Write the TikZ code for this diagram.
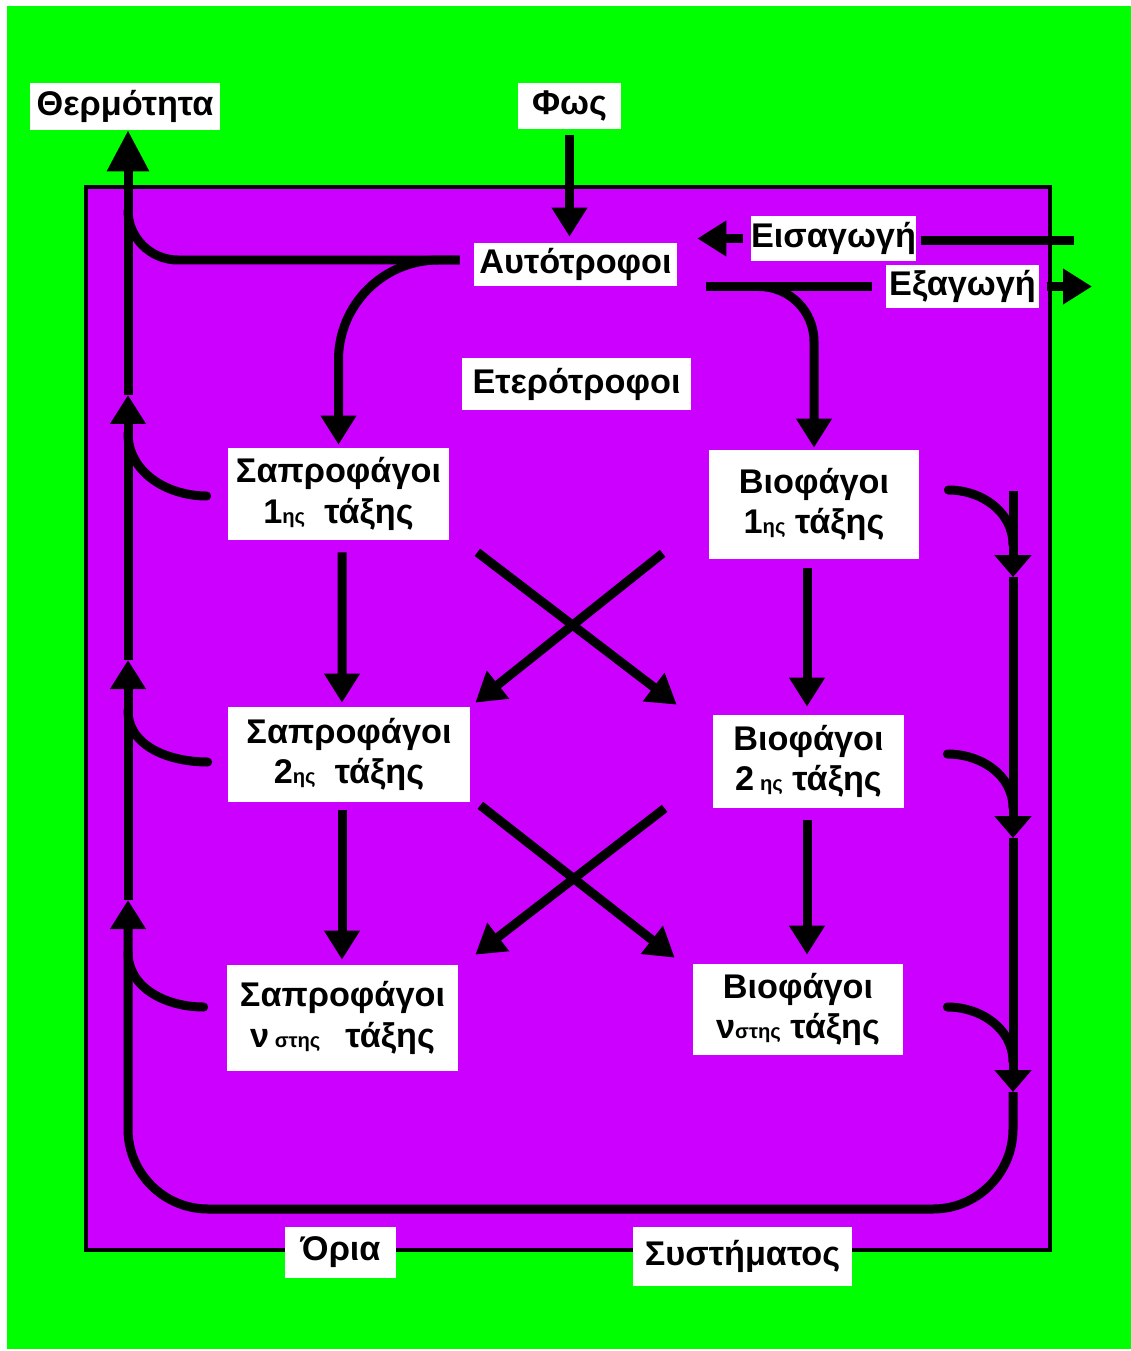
\documentclass[tikz,border=0pt]{standalone}
\usepackage{fontspec}
\setmainfont{Liberation Sans}
\usetikzlibrary{arrows.meta,calc}
\definecolor{grn}{RGB}{0,255,0}
\definecolor{purp}{RGB}{204,0,255}
\newcommand{\ordsub}[1]{{\fontsize{11.5}{12}\selectfont #1}}

\begin{document}
\begin{tikzpicture}[x=0.02cm,y=-0.02cm,
    box/.style = {fill=white, inner sep=0pt, align=center, font=\bfseries\fontsize{19.5}{23}\selectfont},
    flow/.style = {line width=0.18cm},
    dn/.style = {-{Triangle[width=0.72cm,length=0.44cm]}},
    >={Triangle[width=0.68cm,length=0.58cm]}]
  \useasboundingbox (0,0) rectangle (1131,1351);
  \fill[white] (0,0) rectangle (1131,1351);
  \fill[grn] (7,6) rectangle (1131,1349);
  % system boundary
  \filldraw[fill=purp, line width=0.08cm] (86,187) rectangle (1050,1250);

  \node[box, minimum width=3.8cm, minimum height=0.94cm] (therm) at (125,106.5) {Θερμότητα};
  \node[box, minimum width=2.06cm, minimum height=0.92cm] (fos) at (569.5,106) {Φως};
  \node[box, minimum width=4.06cm, minimum height=0.86cm] (auto) at (575.5,264.5) {Αυτότροφοι};
  \node[box, minimum width=3.3cm, minimum height=0.9cm] (eisag) at (833.5,238.5) {Εισαγωγή};
  \node[box, minimum width=3.06cm, minimum height=0.86cm] (exag) at (962.5,286.5) {Εξαγωγή};
  \node[box, minimum width=4.58cm, minimum height=1.04cm] (etero) at (576.5,384) {Ετερότροφοι};
  \node[box, minimum width=4.42cm, minimum height=1.84cm] (sap1) at (338.5,494) {Σαπροφάγοι\\1\ordsub{ης}\ \ τάξης};
  \node[box, minimum width=4.2cm, minimum height=2.18cm] (bio1) at (814,504.5) {Βιοφάγοι\\1\ordsub{ης} τάξης};
  \node[box, minimum width=4.84cm, minimum height=1.9cm] (sap2) at (349,754.5) {Σαπροφάγοι\\2\ordsub{ης}\ \ τάξης};
  \node[box, minimum width=3.82cm, minimum height=1.86cm] (bio2) at (808.5,761.5) {Βιοφάγοι\\2\,\ordsub{ης} τάξης};
  \node[box, minimum width=4.62cm, minimum height=2.12cm] (sapn) at (342.5,1018) {Σαπροφάγοι\\ν\ordsub{ στης}\hspace{0.5cm}τάξης};
  \node[box, minimum width=4.2cm, minimum height=1.82cm] (bion) at (798,1009.5) {Βιοφάγοι\\ν\ordsub{στης} τάξης};
  \node[box, minimum width=2.22cm, minimum height=1.02cm] (oria) at (340.5,1252.5) {Όρια};
  \node[box, minimum width=4.38cm, minimum height=1.18cm] (syst) at (742.5,1256.5) {Συστήματος};

  % points on the heat line and on the return line
  \coordinate (h0) at (128,210);
  \coordinate (h1) at (128,433);
  \coordinate (h2) at (128,710);
  \coordinate (h3) at (128,952);
  \coordinate (la1) at (128,395);
  \coordinate (la2) at (128,660);
  \coordinate (la3) at (128,900);
  \coordinate (rtop) at (1013,491);
  \coordinate (r1) at (1013,545);
  \coordinate (r2) at (1013,808);
  \coordinate (r3) at (1013,1062);
  \coordinate (ra1) at (1013,577);
  \coordinate (ra2) at (1013,838);
  \coordinate (ra3) at (1013,1092);
  \coordinate (bot) at (570,1209);
  \coordinate (imp) at (1074,241);
  \coordinate (exp) at (1092,286.5);

  % light, import, export
  \draw[flow,->,shorten <=0.12cm,shorten >=0.12cm] (fos.south) -- (fos.south |- auto.north);
  \draw[flow,shorten >=0.1cm] (imp) -- (imp -| eisag.east);
  \draw[flow,->,shorten <=0.16cm,shorten >=0.4cm] (eisag.west) -- (auto.east |- eisag.west);
  \draw[flow,shorten <=0.58cm,shorten >=0.28cm] (auto.east |- exag.west) -- (exag.west);
  \draw[flow,->,shorten <=0.16cm] (exag.east) -- (exp);

  % from the autotrophs
  \draw[flow,rounded corners=1cm,shorten <=0.28cm] ([yshift=0.09cm]auto.west) -| (h0);
  \draw[flow,->,rounded corners=2cm,shorten <=0.28cm,shorten >=0.06cm] ([yshift=0.09cm]auto.west) -| (sap1.north);
  \draw[flow,->,rounded corners=1.1cm,shorten <=0.58cm,shorten >=0.04cm] (auto.east |- exag.west) -| (bio1.north);

  % food chains
  \draw[flow,->] ($(sap1.south)+(3.5,12)$) -- ($(sap2.north)+(-7,-4)$);
  \draw[flow,->] ($(sap2.south)+(-7,8)$) -- ($(sapn.north)+(-0.5,-5)$);
  \draw[flow,->] ($(bio1.south)+(-7,9)$) -- ($(bio2.north)+(-1.5,-8)$);
  \draw[flow,->] ($(bio2.south)+(-1.5,12)$) -- ($(bion.north)+(9,-9)$);
  \draw[flow,->] ($(sap1.south east)+(28,12)$) -- ($(bio2.north west)+(-36,-10)$);
  \draw[flow,->] ($(bio1.south west)+(-46,-6)$) -- ($(sap2.north east)+(5,-4)$);
  \draw[flow,->] ($(sap2.south east)+(10,3)$) -- ($(bion.north west)+(-18,-6)$);
  \draw[flow,->] ($(bio2.south west)+(-48,0)$) -- ($(sapn.north east)+(17,-10)$);

  % heat losses
  \draw[flow,line cap=round] ($(sap1.west)+(-21,2)$) to[out=180,in=-90] (h1);
  \draw[flow,line cap=round] ($(sap2.west)+(-20,7.5)$) to[out=180,in=-90] (h2);
  \draw[flow,line cap=round] ($(sapn.west)+(-23,-11)$) to[out=180,in=-90] (h3);
  \draw[flow,line cap=round] ($(bio1.east)+(29,-14.5)$) to[out=0,in=90] (r1);
  \draw[flow,line cap=round] ($(bio2.east)+(43,-7.5)$) to[out=0,in=90] (r2);
  \draw[flow,line cap=round] ($(bion.east)+(44,-2.5)$) to[out=0,in=90] (r3);

  % return loop up to the heat output
  \draw[flow,dn] (rtop) -- (ra1);
  \draw[flow,dn] (ra1) -- (ra2);
  \draw[flow,dn] (ra2) -- (ra3);
  \draw[flow,->,rounded corners=1.6cm] (ra3) |- (bot) -| (la3);
  \draw[flow,->] (la3) -- (la2);
  \draw[flow,->] (la2) -- (la1);
  \draw[flow,-{Triangle[width=0.8cm,length=0.82cm]}] (la1) -- (la1 |- therm.south);
\end{tikzpicture}
\end{document}
